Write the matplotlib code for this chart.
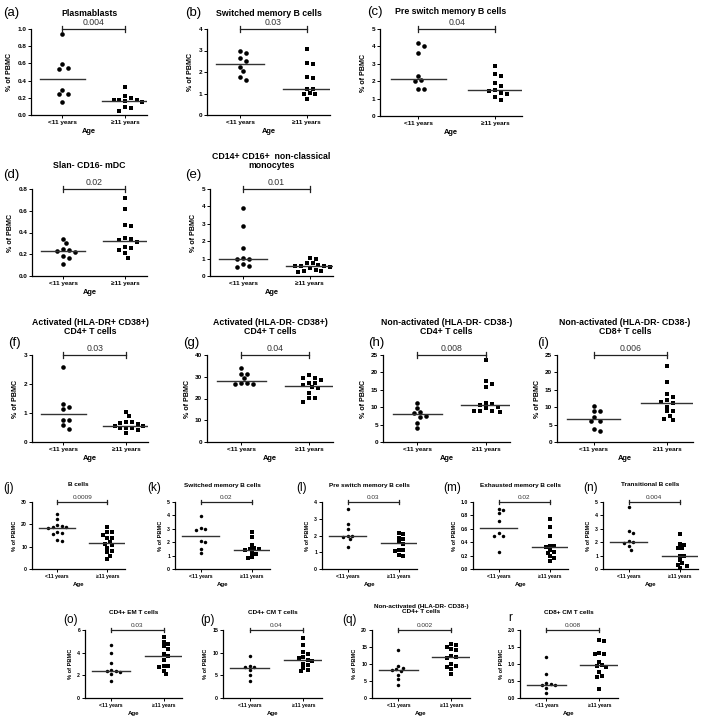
import matplotlib
matplotlib.use("Agg")
import matplotlib.pyplot as plt
import numpy as np

plt.rcParams['font.family'] = ['Liberation Sans', 'DejaVu Sans']

# ---- data: % of PBMC per donor, <11 years vs >=11 years ----
a_young = [0.94, 0.59, 0.55, 0.54, 0.29, 0.25, 0.24, 0.15]
a_old = [0.32, 0.22, 0.20, 0.18, 0.17, 0.17, 0.16, 0.15, 0.09, 0.08, 0.05]
b_young = [3.0, 2.88, 2.65, 2.52, 2.25, 2.03, 1.77, 1.62]
b_old = [3.07, 2.43, 2.36, 1.75, 1.71, 1.22, 1.22, 1.02, 1.0, 0.97, 0.76]
c_young = [4.17, 4.05, 3.6, 2.3, 2.05, 2.0, 1.58, 1.58]
c_old = [2.9, 2.4, 2.3, 1.87, 1.7, 1.52, 1.45, 1.32, 1.25, 1.1, 0.92]
d_young = [0.34, 0.30, 0.25, 0.24, 0.23, 0.22, 0.18, 0.17, 0.11]
d_old = [0.72, 0.62, 0.47, 0.46, 0.35, 0.34, 0.33, 0.31, 0.27, 0.26, 0.24, 0.21, 0.17]
e_young = [3.9, 2.9, 1.6, 1.05, 1.0, 0.95, 0.7, 0.6, 0.5]
e_old = [1.02, 1.0, 0.75, 0.72, 0.65, 0.6, 0.55, 0.55, 0.5, 0.45, 0.35, 0.3, 0.28, 0.25]
f_young = [2.6, 1.32, 1.2, 1.15, 0.77, 0.75, 0.57, 0.46]
f_old = [1.05, 0.9, 0.7, 0.68, 0.65, 0.62, 0.55, 0.55, 0.5, 0.5, 0.48, 0.42, 0.32]
g_young = [34.2, 31.3, 31.3, 29.3, 27.0, 26.9, 26.7, 26.7]
g_old = [30.7, 29.3, 29.3, 28.5, 27.0, 27.0, 26.3, 25.2, 24.7, 22.7, 20.2, 20.2, 18.6]
h_young = [11.3, 9.8, 8.6, 8.3, 7.6, 7.2, 5.5, 4.0]
h_old = [23.5, 17.5, 16.7, 15.7, 11.1, 11.0, 10.7, 10.0, 9.7, 9.0, 8.9, 8.8, 8.7]
i_young = [10.4, 8.9, 8.8, 7.1, 6.1, 5.9, 3.8, 3.3]
i_old = [21.7, 17.1, 13.8, 12.8, 12.1, 11.6, 11.3, 10.2, 8.8, 8.8, 7.6, 6.6, 6.4]
j_young = [24.8, 22.6, 19.5, 19.2, 18.8, 18.6, 18.4, 16.5, 16.0, 15.5, 13.0, 12.6]
j_old = [18.6, 16.4, 16.4, 15.2, 13.7, 13.7, 12.3, 11.2, 10.8, 9.3, 8.1, 7.4, 5.9, 4.4]
k_young = [3.94, 3.03, 2.98, 2.9, 2.1, 2.0, 1.48, 1.19]
k_old = [2.78, 2.36, 1.8, 1.55, 1.5, 1.48, 1.43, 1.2, 1.1, 0.9, 0.85]
l_young = [3.58, 2.69, 2.41, 2.0, 1.97, 1.93, 1.79, 1.3]
l_old = [2.15, 2.1, 1.85, 1.8, 1.6, 1.5, 1.15, 1.15, 1.1, 0.85, 0.75]
m_young = [0.9, 0.88, 0.84, 0.71, 0.53, 0.49, 0.49, 0.26]
m_old = [0.74, 0.63, 0.5, 0.35, 0.34, 0.33, 0.29, 0.26, 0.24, 0.19, 0.17, 0.12]
n_young = [4.6, 2.85, 2.7, 2.1, 2.05, 1.95, 1.7, 1.45]
n_old = [2.6, 1.85, 1.8, 1.6, 1.55, 1.0, 0.95, 0.7, 0.45, 0.3, 0.25, 0.05]
o_young = [4.65, 3.95, 3.05, 2.5, 2.4, 2.35, 2.3, 2.15, 1.5]
o_old = [5.4, 4.9, 4.75, 4.55, 4.3, 3.85, 3.7, 3.35, 2.85, 2.8, 2.75, 2.4, 2.1]
p_young = [9.2, 7.0, 6.9, 6.8, 6.1, 5.0, 3.7]
p_old = [13.2, 11.6, 10.1, 9.6, 9.0, 8.8, 8.4, 8.2, 7.5, 7.2, 6.6, 6.2, 5.9]
q_young = [14.1, 9.5, 8.9, 8.6, 8.3, 7.9, 6.7, 5.6, 3.8]
q_old = [15.8, 15.5, 15.0, 14.5, 14.0, 12.5, 12.2, 11.8, 10.0, 9.5, 9.2, 8.5, 7.0]
r_young = [1.2, 0.7, 0.45, 0.4, 0.38, 0.38, 0.3, 0.15]
r_old = [1.7, 1.67, 1.32, 1.3, 1.3, 1.06, 0.97, 0.95, 0.9, 0.76, 0.66, 0.62, 0.27]

panel_ids = list("abcdefghijklmnopqr")
labels = ["(a)", "(b)", "(c)", "(d)", "(e)", "(f)", "(g)", "(h)", "(i)",
          "(j)", "(k)", "(l)", "(m)", "(n)", "(o)", "(p)", "(q)", "r"]
titles = ["Plasmablasts", "Switched memory B cells", "Pre switch memory B cells",
          "Slan- CD16- mDC", "CD14+ CD16+  non-classical\nmonocytes",
          "Activated (HLA-DR+ CD38+)\nCD4+ T cells", "Activated (HLA-DR- CD38+)\nCD4+ T cells",
          "Non-activated (HLA-DR- CD38-)\nCD4+ T cells", "Non-activated (HLA-DR- CD38-)\nCD8+ T cells",
          "B cells", "Switched memory B cells", "Pre switch memory B cells",
          "Exhausted memory B cells", "Transitional B cells",
          "CD4+ EM T cells", "CD4+ CM T cells",
          "Non-activated (HLA-DR- CD38-)\nCD4+ T cells", "CD8+ CM T cells"]
pvalues = ["0.004", "0.03", "0.04", "0.02", "0.01", "0.03", "0.04", "0.008", "0.006",
           "0.0009", "0.02", "0.03", "0.02", "0.004", "0.03", "0.04", "0.002", "0.008"]
medians_young = [0.42, 2.38, 2.15, 0.23, 1.0, 0.95, 28.1, 7.95, 6.6,
                 18.5, 2.5, 2.0, 0.61, 2.0, 2.35, 6.7, 8.3, 0.38]
medians_old = [0.165, 1.22, 1.52, 0.325, 0.55, 0.55, 25.9, 10.7, 11.3,
               11.5, 1.42, 1.53, 0.33, 0.97, 3.7, 8.35, 12.2, 0.98]
y_max = [1.0, 4, 5, 0.8, 5, 3, 40, 25, 25, 30, 5, 4, 1.0, 5, 6, 15, 20, 2.0]
y_step = [0.2, 1, 1, 0.2, 1, 1, 10, 5, 5, 10, 1, 1, 0.2, 1, 2, 5, 5, 0.5]
categories = ["<11 years", "\u226511 years"]

series = {k: (globals()[k + "_young"], globals()[k + "_old"]) for k in panel_ids}

# ---- layout in pixels: axes box (left, right, top, bottom), title y, label pos ----
W, H = 709, 717
boxes = {
    'a': (31, 147, 29, 115), 'b': (207, 330, 29, 115), 'c': (380, 522, 29, 116),
    'd': (32, 147, 189, 276), 'e': (210, 333, 189, 276),
    'f': (32, 148, 355, 442), 'g': (207, 333, 355, 442),
    'h': (383, 510, 355, 442), 'i': (557, 693, 355, 442),
    'j': (32, 125, 502, 569), 'k': (175, 270, 502, 569), 'l': (322, 417, 502, 569),
    'm': (473, 568, 502, 569), 'n': (603, 698, 502, 569),
    'o': (85, 182, 630, 698), 'p': (223, 322, 630, 698),
    'q': (372, 470, 630, 698), 'r': (520, 618, 630, 698),
}
title_y = {'a': 13, 'b': 13, 'c': 12, 'd': 165, 'e': 161, 'f': 327, 'g': 327, 'h': 327,
           'i': 327, 'j': 485, 'k': 485, 'l': 485, 'm': 485, 'n': 485,
           'o': 613, 'p': 613, 'q': 609, 'r': 613}
label_pos = {'a': (3, 13), 'b': (185, 13), 'c': (367, 12), 'd': (3, 175), 'e': (185, 175),
             'f': (8, 343), 'g': (183, 343), 'h': (368, 343), 'i': (537, 343),
             'j': (3, 488), 'k': (147, 488), 'l': (296, 488), 'm': (443, 488), 'n': (583, 488),
             'o': (63, 620), 'p': (200, 620), 'q': (342, 620), 'r': (508, 618)}

XLIM = (0.5, 2.35)
fig = plt.figure(figsize=(W / 100, H / 100), dpi=100)


def swarm(vals, px_y, px_x, d):
    # simple beeswarm: spread points sideways until they stop overlapping
    vals = np.asarray(vals, float)
    offs = np.zeros(len(vals))
    placed = []
    cands = [0.0]
    for n in range(1, 8):
        cands += [n * d * 0.6, -n * d * 0.6]
    for i in np.argsort(vals)[::-1]:
        y = vals[i] * px_y
        for c in cands:
            if all((c - px) ** 2 + (y - py) ** 2 >= d ** 2 for px, py in placed):
                break
        placed.append((c, y))
        offs[i] = c / px_x
    return offs


for idx, key in enumerate(panel_ids):
    small = idx >= 9
    l, r, t, b = boxes[key]
    ax = fig.add_axes([l / W, 1 - b / H, (r - l) / W, (b - t) / H])
    young, old = series[key]
    ym = y_max[idx]
    ms = 2.5 if small else 3.3
    dpx = ms * 100 / 72 * 1.05
    px_y = (b - t) / ym
    px_x = (r - l) / (XLIM[1] - XLIM[0])

    for pos, vals, mk, med in [(1, young, 'o', medians_young[idx]),
                               (2, old, 's', medians_old[idx])]:
        xs = pos + swarm(vals, px_y, px_x, dpx)
        ax.plot(xs, vals, linestyle='none', marker=mk, ms=ms, color='black',
                markeredgewidth=0, clip_on=False)
        ax.plot([pos - 0.36, pos + 0.36], [med, med], color='#333333', lw=1.0)

    # significance bracket at the top of the axis
    cap = ym * 0.035
    ax.plot([1, 2], [ym, ym], color='#222222', lw=0.9, clip_on=False)
    for xx in (1, 2):
        ax.plot([xx, xx], [ym - cap, ym + cap], color='#222222', lw=0.9, clip_on=False)
    ax.annotate(pvalues[idx], (1.5, ym), xytext=(0, 1.5), textcoords='offset points',
                ha='center', va='bottom', fontsize=4.6 if small else 6.3, color='#333333')

    ax.set_xlim(*XLIM)
    ax.set_ylim(0, ym)
    ticks = np.arange(0, ym + y_step[idx] / 2, y_step[idx])
    ax.set_yticks(ticks)
    fmt = '%.1f' if y_step[idx] < 1 else '%d'
    ax.set_yticklabels([fmt % v for v in ticks])
    ax.set_xticks([1, 2])
    ax.set_xticklabels(categories)
    for s in ('top', 'right'):
        ax.spines[s].set_visible(False)
    for s in ('left', 'bottom'):
        ax.spines[s].set_linewidth(0.9)
    tfs = 3.7 if small else 4.6
    ax.tick_params(axis='both', length=2, width=0.7, pad=1.5, labelsize=tfs)
    for lab in ax.get_xticklabels() + ax.get_yticklabels():
        lab.set_fontweight('bold')
    ax.set_ylabel('% of PBMC', fontsize=4.1 if small else 5.1, fontweight='bold', labelpad=3)
    ax.set_xlabel('Age', fontsize=4.4 if small else 5.4, fontweight='bold', labelpad=2.5)

    fig.text(((l + r) / 2) / W, 1 - title_y[key] / H, titles[idx], ha='center', va='center',
             fontsize=4.6 if small else 6.3, fontweight='bold', linespacing=1.1)
    lx, ly = label_pos[key]
    fig.text(lx / W, 1 - ly / H, labels[idx], ha='left', va='center',
             fontsize=8.5 if small else 9.5)

fig.savefig("out.png", dpi=100)
